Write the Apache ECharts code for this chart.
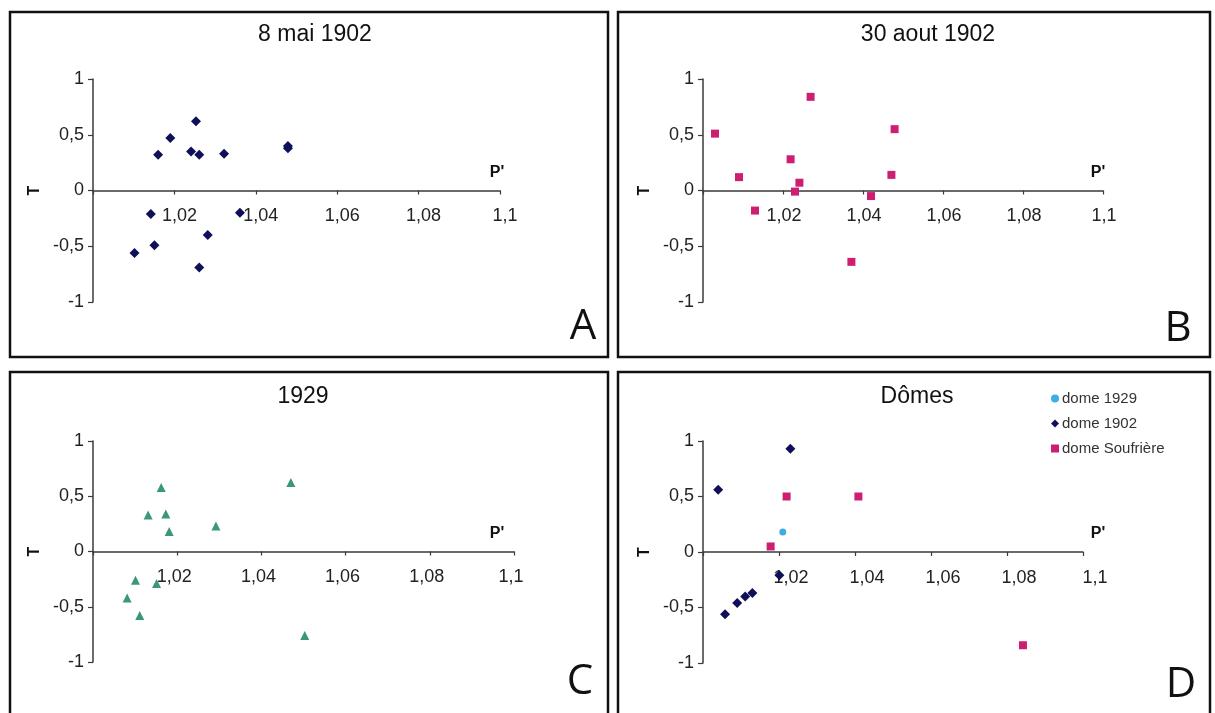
<!DOCTYPE html>
<html>
<head>
<meta charset="utf-8">
<script src="https://cdn.jsdelivr.net/npm/echarts@6/dist/echarts.min.js"></script>
<style>
  html, body { margin: 0; padding: 0; background: #ffffff; }
  #chart { width: 1215px; height: 713px; }
</style>
</head>
<body>
<div id="chart"></div>
<script>
// ---- Data (P', T) ----
const panelTitles = ['8 mai 1902', '30 aout 1902', '1929', 'Dômes'];
const panelLetters = ['A', 'B', 'C', 'D'];
const yTickValues = [-1, -0.5, 0, 0.5, 1];
const xTickValues = [1.02, 1.04, 1.06, 1.08, 1.1];
const legendNames = ['dome 1929', 'dome 1902', 'dome Soufrière'];

const mai1902 = [
  [1.016, 0.32], [1.019, 0.47], [1.0253, 0.62], [1.0241, 0.35], [1.0261, 0.32],
  [1.0322, 0.33], [1.0479, 0.40], [1.0479, 0.38], [1.0142, -0.21], [1.0361, -0.20],
  [1.0282, -0.40], [1.0151, -0.49], [1.0102, -0.56], [1.0261, -0.69]
];
const aout1902 = [
  [1.003, 0.51], [1.0269, 0.84], [1.0479, 0.55], [1.0219, 0.28], [1.009, 0.12],
  [1.0471, 0.14], [1.0241, 0.07], [1.023, -0.01], [1.042, -0.05], [1.013, -0.18],
  [1.0371, -0.64]
];
const an1929 = [
  [1.0162, 0.58], [1.047, 0.625], [1.0131, 0.33], [1.0173, 0.34], [1.0181, 0.18],
  [1.0292, 0.23], [1.0101, -0.26], [1.0151, -0.29], [1.0081, -0.42], [1.0111, -0.58],
  [1.0503, -0.76]
];
const dome1929 = [[1.021, 0.18]];
const dome1902 = [
  [1.004, 0.56], [1.023, 0.93], [1.0201, -0.21], [1.0058, -0.56], [1.009, -0.46],
  [1.0111, -0.40], [1.013, -0.37]
];
const domeSoufriere = [[1.022, 0.50], [1.0409, 0.50], [1.0178, 0.05], [1.0842, -0.84]];

// ---- Layout / style ----
const FONT = 'Liberation Sans, Arial, sans-serif';
const NAVY = '#10105a';
const MAGENTA = '#cc1f72';
const TEAL = '#3a977a';
const LIGHTBLUE = '#3eaee2';
const AXIS = '#3a3a3a';

const grids = [
  { left: 93, top: 79, width: 407, height: 223 },
  { left: 703, top: 79, width: 400, height: 223 },
  { left: 93, top: 441, width: 421, height: 221 },
  { left: 703, top: 441, width: 380, height: 222 }
];
const pNameGap = [-3, -5, -17, 15];
const labelShift = [5, 1, -3, 12];
const titlePos = [[310, 18], [923, 18], [298, 380], [912, 380]];
const letterPos = [[583, 327], [1178, 329], [580, 682], [1181, 685]];
const boxes = [[10, 12, 598, 345], [618, 12, 592, 345], [10, 372, 598, 350], [618, 372, 592, 350]];

const fmt = v => String(+v.toFixed(2)).replace('.', ',');

// the x axis crosses at T = 0, i.e. the middle of the symmetric [-1, 1] range
const xAxes = grids.map((g, i) => ({
  gridIndex: i, type: 'value', min: 1, max: 1.1, interval: 0.02,
  position: 'bottom', offset: -g.height / 2,
  axisLine: { show: true, onZero: false, lineStyle: { color: AXIS, width: 1.5 } },
  axisTick: { show: true, length: 4, lineStyle: { color: AXIS, width: 1.2 } },
  splitLine: { show: false },
  axisLabel: {
    fontFamily: FONT, fontSize: 18, color: '#222', margin: 17,
    padding: labelShift[i] >= 0 ? [0, 0, 0, 2 * labelShift[i]] : [0, -2 * labelShift[i], 0, 0],
    formatter: v => xTickValues.some(t => Math.abs(t - v) < 1e-6) ? fmt(v) : ''
  },
  name: "P'", nameLocation: 'end', nameGap: pNameGap[i],
  nameTextStyle: { fontFamily: FONT, fontWeight: 'bold', fontSize: 16, color: '#111',
                   align: 'center', verticalAlign: 'bottom', padding: [0, 0, 10, 0] }
}));
const yAxes = grids.map((g, i) => ({
  gridIndex: i, type: 'value', min: -1, max: 1, interval: 0.5,
  axisLine: { show: true, onZero: false, lineStyle: { color: AXIS, width: 1.5 } },
  axisTick: { show: true, length: 5, lineStyle: { color: AXIS, width: 1.2 } },
  splitLine: { show: false },
  axisLabel: {
    fontFamily: FONT, fontSize: 18, color: '#222', margin: 9,
    formatter: v => yTickValues.some(t => Math.abs(t - v) < 1e-6) ? fmt(v) : ''
  },
  name: 'T', nameLocation: 'middle', nameGap: 50, nameRotate: 90,
  nameTextStyle: { fontFamily: FONT, fontWeight: 'bold', fontSize: 16, color: '#111' }
}));

const sc = (name, data, idx, symbol, size, color) => ({
  name, type: 'scatter', xAxisIndex: idx, yAxisIndex: idx, data,
  symbol, symbolSize: size, itemStyle: { color, opacity: 1 }, emphasis: { disabled: true }
});

const series = [
  sc('8 mai 1902', mai1902, 0, 'diamond', 10, NAVY),
  sc('30 aout 1902', aout1902, 1, 'rect', 8, MAGENTA),
  sc('1929', an1929, 2, 'triangle', 9, TEAL),
  sc(legendNames[0], dome1929, 3, 'circle', 7, LIGHTBLUE),
  sc(legendNames[1], dome1902, 3, 'diamond', 10, NAVY),
  sc(legendNames[2], domeSoufriere, 3, 'rect', 8, MAGENTA)
];

const graphics = [];
boxes.forEach(b => graphics.push({
  type: 'rect', shape: { x: b[0], y: b[1], width: b[2], height: b[3] },
  style: { fill: 'none', stroke: '#111', lineWidth: 2.5 }, silent: true, z: 10
}));
letterPos.forEach((p, i) => graphics.push({
  type: 'text', x: p[0], y: p[1], silent: true,
  style: { text: panelLetters[i], fontFamily: 'Open Sans, Liberation Sans, sans-serif',
           fontSize: 42, fontWeight: 'normal', fill: '#111', align: 'center', verticalAlign: 'middle' }
}));

const option = {
  animation: false,
  backgroundColor: '#ffffff',
  title: panelTitles.map((t, i) => ({
    text: t, left: titlePos[i][0], top: titlePos[i][1], textAlign: 'center',
    textStyle: { fontFamily: FONT, fontSize: 23, fontWeight: 'normal', color: '#111' }
  })),
  legend: {
    data: legendNames, orient: 'vertical', left: 1046, top: 386,
    itemWidth: 8, itemHeight: 8, itemGap: 10,
    textStyle: { fontFamily: FONT, fontSize: 15, color: '#333', padding: [0, 0, 0, -2] }
  },
  grid: grids,
  xAxis: xAxes,
  yAxis: yAxes,
  series,
  graphic: graphics
};

const chart = echarts.init(document.getElementById('chart'), null, { renderer: 'canvas' });
chart.setOption(option);
</script>
</body>
</html>
